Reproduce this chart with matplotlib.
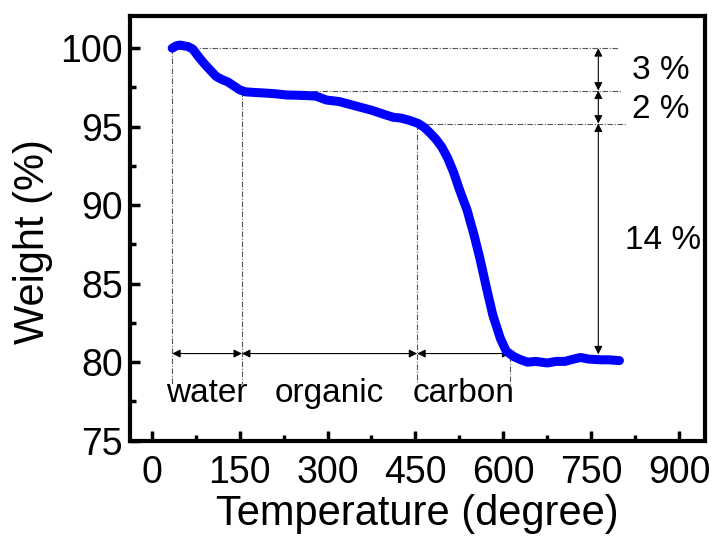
import matplotlib
matplotlib.use("Agg")
import matplotlib.pyplot as plt
from matplotlib.ticker import MultipleLocator

plt.rcParams['font.family'] = ['Liberation Sans', 'DejaVu Sans']

# TGA curve
temperature = [35, 42, 48, 55, 62, 70, 80, 90, 100, 110, 120, 130, 140, 150, 160, 175, 190, 210,
               230, 250, 265, 280, 298, 320, 340, 355, 375, 395, 412, 425, 440, 455, 465, 475,
               485, 495, 505, 515, 525, 538, 550, 560, 572, 582, 595, 605, 618, 630, 641, 655,
               675, 690, 705, 720, 732, 745, 766, 780, 798]
weight = [100.0, 100.15, 100.2, 100.15, 100.1, 99.95, 99.45, 99.0, 98.6, 98.2, 98.0, 97.85, 97.6,
          97.35, 97.22, 97.18, 97.15, 97.1, 97.02, 97.0, 96.98, 96.95, 96.7, 96.6, 96.4, 96.25,
          96.05, 95.8, 95.6, 95.55, 95.4, 95.2, 94.95, 94.6, 94.2, 93.7, 93.0, 92.1, 91.0, 89.7,
          88.1, 86.6, 84.6, 83.0, 81.5, 80.7, 80.35, 80.15, 80.0, 80.05, 79.95, 80.05, 80.05,
          80.2, 80.3, 80.2, 80.15, 80.15, 80.1]

# annotation levels
stage_temps = [35, 154, 453, 612]
stage_labels = ["water", "organic", "carbon"]
level_weights = [100.0, 97.3, 95.2, 80.5]
level_ends = [796, 800, 809]
loss_labels = ["3 %", "2 %", "14 %"]
arrow_x = 762
arrow_y = 80.55

fig = plt.figure(figsize=(7.15, 5.44), dpi=100)
ax = fig.add_axes([130/715, 1-441/544, (705-130)/715, (441-16)/544])

ax.plot(temperature, weight, color=(0, 0, 1), lw=6.5, solid_capstyle='round',
        solid_joinstyle='round', zorder=5)

guide = dict(color='#555555', lw=0.8, linestyle=(0, (5, 1.5, 1, 1.5)), zorder=2)
# vertical guides
ax.plot([stage_temps[0]]*2, [level_weights[0], 78.6], **guide)
ax.plot([stage_temps[1]]*2, [level_weights[1], 78.6], **guide)
ax.plot([stage_temps[2]]*2, [level_weights[2], 78.6], **guide)
ax.plot([stage_temps[3]]*2, [80.4, 77.8], **guide)
# horizontal guides
ax.plot([stage_temps[0], level_ends[0]], [level_weights[0]]*2, **guide)
ax.plot([stage_temps[1], level_ends[1]], [level_weights[1]]*2, **guide)
ax.plot([stage_temps[2], level_ends[2]], [level_weights[2]]*2, **guide)

aprops = dict(arrowstyle='<|-|>', color='black', lw=0.8, mutation_scale=12,
              shrinkA=0, shrinkB=0)
for i in range(3):
    ax.annotate('', xy=(stage_temps[i], arrow_y), xytext=(stage_temps[i+1], arrow_y),
                arrowprops=aprops)
    ax.text((stage_temps[i] + stage_temps[i+1]) / 2 if i else 94, 77.45, stage_labels[i],
            ha='center', va='baseline', fontsize=24)
for i in range(3):
    ax.annotate('', xy=(arrow_x, level_weights[i]), xytext=(arrow_x, level_weights[i+1]),
                arrowprops=aprops)

ax.text(869, 98.06, loss_labels[0], ha='center', va='baseline', fontsize=24)
ax.text(869, 95.53, loss_labels[1], ha='center', va='baseline', fontsize=24)
ax.text(873, 87.2, loss_labels[2], ha='center', va='baseline', fontsize=24)

ax.xaxis.set_major_locator(MultipleLocator(150))
ax.xaxis.set_minor_locator(MultipleLocator(75))
ax.set_yticks([75, 80, 85, 90, 95, 100])
ax.yaxis.set_minor_locator(MultipleLocator(2.5))
ax.set_xlim(-37, 944)
ax.set_ylim(74.98, 102.05)

for s in ax.spines.values():
    s.set_linewidth(3)
ax.tick_params(which='major', direction='in', length=7, width=2.5, labelsize=27)
ax.tick_params(which='minor', direction='in', length=4, width=2.5)
ax.tick_params(axis='x', which='major', pad=10)
ax.tick_params(axis='y', which='major', pad=5)

ax.set_xlabel("Temperature (degree)", fontsize=30, labelpad=2)
ax.set_ylabel("Weight (%)", fontsize=30)
ax.yaxis.set_label_coords(-0.134, 0.47)

fig.savefig("out.png", dpi=100)
